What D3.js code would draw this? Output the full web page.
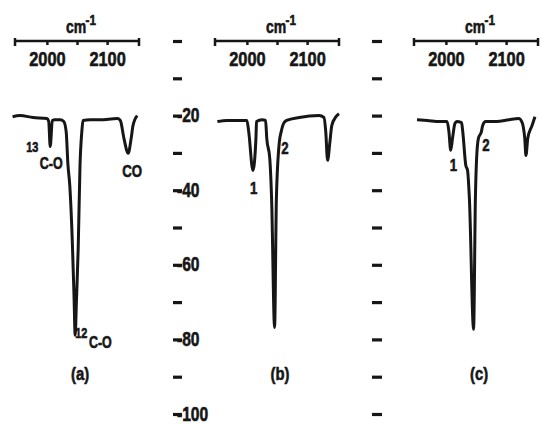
<!DOCTYPE html>
<html>
<head>
<meta charset="utf-8">
<script src="https://cdn.jsdelivr.net/npm/d3@7"></script>
<style>
  body { margin: 0; background: #fff; }
  svg text { font-family: "Liberation Sans", Arial, sans-serif; font-weight: bold; fill: #161616; stroke: #161616; stroke-width: 0.6px; }
</style>
</head>
<body>
<div id="chart"></div>
<script>
// Spectrum (a): wavenumber (cm-1) and transmission reading
const wnA = [1943, 1955, 1977, 2000, 2003, 2005.5, 2009, 2013, 2022, 2028, 2032, 2035, 2038, 2042, 2045, 2047, 2049, 2052, 2055, 2058, 2060, 2072, 2088, 2117, 2122, 2128, 2135, 2140, 2143, 2150];
const valA = [-20.3, -20, -20.5, -20.8, -21.5, -28.3, -21.3, -21.1, -21.1, -21.6, -24.3, -33.3, -38.7, -52.8, -68, -78.9, -70, -55.5, -33.3, -24.3, -21.3, -21.1, -21.1, -20.8, -21.3, -26.1, -30.1, -26.1, -22.7, -20];

// Spectrum (b)
const wnB = [1951, 1967, 1989, 2000, 2003, 2010, 2015, 2016, 2025, 2031, 2033, 2038, 2041, 2046, 2049, 2054, 2057, 2061, 2066, 2087, 2120, 2128, 2131, 2134, 2138, 2141, 2148, 2153];
const valB = [-21.6, -21.3, -21.3, -21.3, -24.3, -34.7, -26.1, -21.6, -21.1, -21.3, -26.1, -31.5, -42.1, -76.8, -42.1, -26.9, -24.3, -22.1, -21.3, -20.5, -20, -20.5, -24.3, -32, -26.9, -22.7, -20.3, -19.5];

// Spectrum (c)
const wnC = [1952, 1969, 1990, 2002, 2005, 2008, 2011, 2015, 2018, 2026, 2028, 2033, 2036, 2039, 2046, 2049, 2051, 2054, 2059, 2061, 2066, 2084, 2105, 2121, 2126, 2131, 2133, 2136, 2143, 2148];
const valC = [-21.1, -21.3, -21.6, -21.6, -24.3, -29.3, -26.1, -22.1, -21.6, -21.9, -24.3, -33.3, -34.7, -42.1, -77.3, -42.1, -31.5, -26.1, -24.3, -22.7, -21.6, -21.6, -21.1, -20.8, -21.6, -26.1, -30.7, -26.1, -22.7, -20.3];

const panelNames = ['(a)', '(b)', '(c)'];
const wnTicks = [2000, 2050, 2100];
const wnLabels = [2000, 2100];
const yTicks = d3.range(0, -101, -10);
const yLabels = [-20, -40, -60, -80, -100];

// Peak annotations: superscript, label, wavenumber and reading at the text baseline
const notesA = [
  { sup: '13', text: 'C-O', wn: 1985, v: -34.3, supDy: -17, supDx: -15 },
  { sup: '12', text: 'C-O', wn: 2047, v: -82.4, supDy: -10, supDx: 0 },
  { sup: '', text: 'CO', wn: 2125, v: -36.5, supDy: 0, supDx: 0 }
];
const notesB = [
  { sup: '', text: '1', wn: 2005, v: -41, supDy: 0, supDx: 0 },
  { sup: '', text: '2', wn: 2057, v: -30.3, supDy: 0, supDx: 0 }
];
const notesC = [
  { sup: '', text: '1', wn: 2006.5, v: -34.9, supDy: 0, supDx: 0 },
  { sup: '', text: '2', wn: 2060.5, v: -29.5, supDy: 0, supDx: 0 }
];

const panels = [
  { wn: wnA, val: valA, notes: notesA, left: 15 },
  { wn: wnB, val: valB, notes: notesB, left: 215 },
  { wn: wnC, val: valC, notes: notesC, left: 414 }
];

const width = 540;
const height = 425;
const ink = '#161616';
const narrow = 0.78; // the typeface of the scan is a condensed bold

const svg = d3.select('#chart')
  .append('svg')
  .attr('width', width)
  .attr('height', height);

const y = d3.scaleLinear().domain([0, -100]).range([41, 414]);
const x = d3.scaleLinear().domain([1947, 2153]).range([0, 124]);

const line = d3.line()
  .x(d => x(d[0]))
  .y(d => y(d[1]))
  .curve(d3.curveMonotoneX);

// squeeze text horizontally about its anchor point
function condense(sel, sx) {
  sel.each(function () {
    const t = d3.select(this);
    const tx = +t.attr('x') || 0;
    const ty = +t.attr('y') || 0;
    t.attr('x', 0).attr('y', 0)
      .attr('transform', 'translate(' + tx + ',' + ty + ') scale(' + sx + ',1)');
  });
}

panels.forEach(function (p, i) {
  const g = svg.append('g').attr('transform', 'translate(' + p.left + ',0)');

  // wavenumber axis across the top
  const ax = g.append('g')
    .attr('transform', 'translate(0,' + y(0) + ')')
    .call(d3.axisBottom(x)
      .tickValues(wnTicks)
      .tickSize(4)
      .tickSizeOuter(0)
      .tickPadding(6)
      .tickFormat(d => wnLabels.includes(d) ? d : ''));
  ax.select('.domain')
    .attr('d', 'M' + x.range()[0] + ',-3V5M' + x.range()[0] + ',0H' + x.range()[1] + 'M' + x.range()[1] + ',-3V5')
    .attr('stroke', ink).attr('stroke-width', 2.5);
  ax.selectAll('.tick line').attr('stroke', ink).attr('stroke-width', 2.5);
  ax.selectAll('.tick text').style('font-size', '21px').call(condense, narrow);

  // unit label
  const unit = g.append('text')
    .attr('x', (x.range()[0] + x.range()[1]) / 2 + 4)
    .attr('y', 33)
    .attr('text-anchor', 'middle')
    .style('font-size', '18px');
  unit.append('tspan').text('cm');
  unit.append('tspan').attr('dy', -8).attr('dx', -1).style('font-size', '15px').text('-1');
  unit.call(condense, narrow);

  // spectrum trace
  g.append('path')
    .datum(d3.zip(p.wn, p.val))
    .attr('d', line)
    .attr('fill', 'none')
    .attr('stroke', ink)
    .attr('stroke-width', 3)
    .attr('stroke-linejoin', 'round');

  // band labels
  p.notes.forEach(function (n) {
    const t = g.append('text')
      .attr('x', x(n.wn))
      .attr('y', y(n.v));
    if (n.sup) {
      t.append('tspan')
        .attr('dx', n.supDx)
        .attr('dy', n.supDy)
        .style('font-size', '14px')
        .text(n.sup);
      t.append('tspan')
        .attr('dx', 2)
        .attr('dy', -n.supDy)
        .style('font-size', '16px')
        .text(n.text);
    } else {
      t.style('font-size', '17px').text(n.text);
    }
    t.call(condense, narrow);
  });

  // panel letter
  g.append('text')
    .attr('x', x(2055))
    .attr('y', y(-91))
    .attr('text-anchor', 'middle')
    .style('font-size', '19px')
    .text(panelNames[i])
    .call(condense, narrow);
});

// percentage scales between the panels
function yScaleAxis(xPos, size, labelled) {
  const ay = svg.append('g')
    .attr('transform', 'translate(' + xPos + ',0)')
    .call(d3.axisRight(y)
      .tickValues(yTicks)
      .tickSize(size)
      .tickFormat(d => labelled && yLabels.includes(d) ? d : ''));
  ay.select('.domain').remove();
  ay.selectAll('.tick line').attr('stroke', ink).attr('stroke-width', 3.2);
  ay.selectAll('.tick text')
    .attr('x', 4)
    .attr('y', 6)
    .attr('dy', null)
    .style('font-size', '20px')
    .call(condense, narrow);
}

yScaleAxis(173, 9, true);
yScaleAxis(372, 10, false);
</script>
</body>
</html>
